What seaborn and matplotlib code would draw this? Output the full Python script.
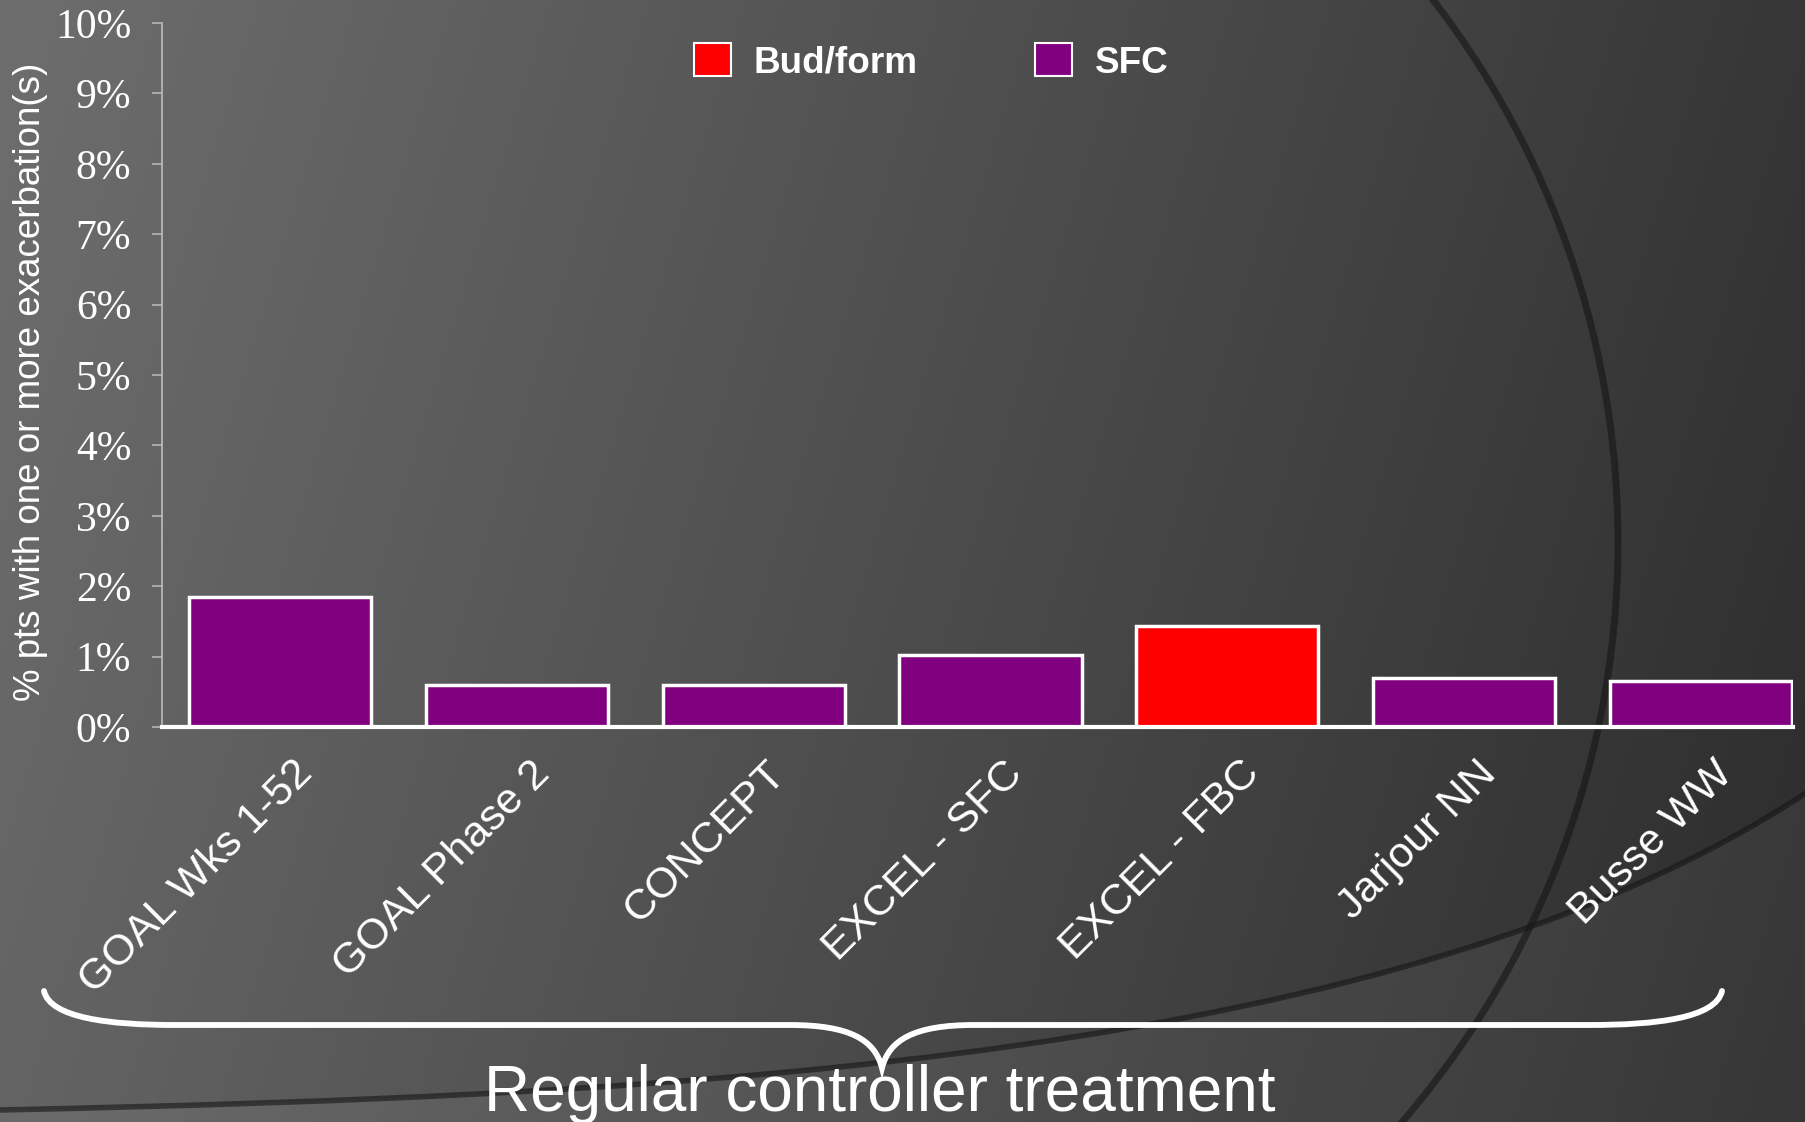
import numpy as np
import pandas as pd
import matplotlib
matplotlib.use("Agg")
import matplotlib.pyplot as plt
import matplotlib.transforms as mtransforms
import seaborn as sns
from matplotlib import font_manager
from matplotlib.patches import Patch, PathPatch, Arc
from matplotlib.path import Path

# ---- data -------------------------------------------------------------
studies = ["GOAL Wks 1-52", "GOAL Phase 2", "CONCEPT", "EXCEL - SFC",
           "EXCEL - FBC", "Jarjour NN", "Busse WW"]
pct_exacerbation = [1.85, 0.60, 0.60, 1.02, 1.43, 0.70, 0.65]
treatment = ["SFC", "SFC", "SFC", "SFC", "Bud/form", "SFC", "SFC"]
legend_order = ["Bud/form", "SFC"]
y_ticks = list(range(0, 11))
y_tick_labels = [f"{v}%" for v in y_ticks]
palette = {"Bud/form": "#FF0000", "SFC": "#800080"}

# ---- style ------------------------------------------------------------
W, H = 1806, 1122
sns.set_theme(style="white")
plt.rcParams["font.family"] = ["Liberation Sans", "DejaVu Sans"]

available = {f.name for f in font_manager.fontManager.ttflist}
narrow = "Liberation Sans Narrow" in available
cond_family = ["Liberation Sans Narrow", "Liberation Sans"] if narrow else ["Liberation Sans"]
ylabel_size = 31 if narrow else 26.5
caption_size = 53 if narrow else 46

fig = plt.figure(figsize=(W / 100, H / 100), dpi=100)

# ---- slide background (pixel coordinates) ------------------------------
bg = fig.add_axes([0, 0, 1, 1], zorder=0)
bg.set_xlim(0, W)
bg.set_ylim(H, 0)
bg.axis("off")
yy, xx = np.mgrid[0:H, 0:W]
t = np.clip((xx + 0.3 * yy) / (W + 0.3 * H), 0, 1)
g = (110 - 66 * t) / 255.0
bg.imshow(np.dstack([g, g, g]), extent=(0, W, H, 0), aspect="auto",
          interpolation="bilinear", zorder=0)

# sweeping lower curve with a slightly lighter band beneath it
sweep = [(0, 1110), (700, 1095), (1400, 1060), (W, 793)]
band = Path(sweep + [(W, H), (0, H), (0, 1110)],
            [Path.MOVETO, Path.CURVE4, Path.CURVE4, Path.CURVE4,
             Path.LINETO, Path.LINETO, Path.CLOSEPOLY])
bg.add_patch(PathPatch(band, facecolor="white", alpha=0.05, edgecolor="none", zorder=1))
bg.add_patch(PathPatch(Path(sweep, [Path.MOVETO, Path.CURVE4, Path.CURVE4, Path.CURVE4]),
                       facecolor="none", edgecolor="#151515", alpha=0.6, lw=4, zorder=2))

# large sweeping arc on the right
bg.add_patch(Arc((731, 542), 2 * 887, 2 * 887, theta1=-90, theta2=90,
                 edgecolor="#151515", alpha=0.6, lw=5, zorder=2))

# curly brace under the categories
brace_pts = [(44, 991), (50, 1018), (110, 1025), (175, 1025),
             (790, 1025),
             (850, 1025), (875, 1040), (882, 1068),
             (889, 1040), (914, 1025), (974, 1025),
             (1590, 1025),
             (1656, 1025), (1716, 1018), (1722, 991)]
brace_codes = [Path.MOVETO, Path.CURVE4, Path.CURVE4, Path.CURVE4,
               Path.LINETO,
               Path.CURVE4, Path.CURVE4, Path.CURVE4,
               Path.CURVE4, Path.CURVE4, Path.CURVE4,
               Path.LINETO,
               Path.CURVE4, Path.CURVE4, Path.CURVE4]
bg.add_patch(PathPatch(Path(brace_pts, brace_codes), facecolor="none",
                       edgecolor="white", lw=4.2, capstyle="round", zorder=3))
bg.text(880, 1111, "Regular controller treatment", ha="center", va="baseline",
        color="white", fontsize=caption_size, family=cond_family, zorder=4)

# ---- bar chart -----------------------------------------------------------
ax = fig.add_axes([162 / W, 1 - 727 / H, (1793 - 162) / W, (727 - 23) / H], zorder=2)
ax.patch.set_alpha(0)

df = pd.DataFrame({"study": studies, "pct": pct_exacerbation, "treatment": treatment})
sns.barplot(data=df, x="study", y="pct", hue="treatment", hue_order=legend_order,
            palette=palette, dodge=False, width=0.77, edgecolor="white",
            linewidth=2.5, saturation=1, legend=False, ax=ax)

ax.set_xlim(-0.5, 6.39)
ax.set_ylim(0, 10)
for side in ("top", "right"):
    ax.spines[side].set_visible(False)
ax.spines["left"].set_color("#bdbdbd")
ax.spines["left"].set_linewidth(1.2)
ax.spines["bottom"].set_color("white")
ax.spines["bottom"].set_linewidth(3)
ax.spines["bottom"].set_zorder(5)

ax.set_yticks(y_ticks)
ax.set_yticklabels(y_tick_labels, family="Liberation Serif", fontsize=30, color="white")
ax.tick_params(axis="y", direction="out", left=True, length=7.2, width=1.1,
               color="#bdbdbd", pad=15)

ax.set_xticks(range(len(studies)))
ax.set_xticklabels(studies, rotation=45, ha="right", va="top",
                   rotation_mode="anchor", fontsize=31, color="white")
ax.tick_params(axis="x", bottom=False, length=0, pad=19)
shift = mtransforms.ScaledTranslation(12 / 100, 0, fig.dpi_scale_trans)
for lab in ax.get_xticklabels():
    lab.set_transform(lab.get_transform() + shift)

ax.set_xlabel("")
ax.set_ylabel("% pts with one or more exacerbation(s)", fontsize=ylabel_size,
              color="white", family=cond_family, va="center")
ax.yaxis.set_label_coords((31 - 162) / (1793 - 162), (727 - 382) / (727 - 23))

# ---- legend ---------------------------------------------------------------
handles = [Patch(facecolor=palette[k], edgecolor="white", linewidth=1.5, label=k)
           for k in legend_order]
fig.legend(handles=handles, loc="center left", bbox_to_anchor=(694 / W, 1 - 62 / H),
           ncol=2, frameon=False, prop={"weight": "bold", "size": 26.6},
           handlelength=1.0, handleheight=1.0, handletextpad=0.6,
           columnspacing=3.2, borderpad=0, borderaxespad=0, labelcolor="white")

fig.savefig("out.png", dpi=100)
